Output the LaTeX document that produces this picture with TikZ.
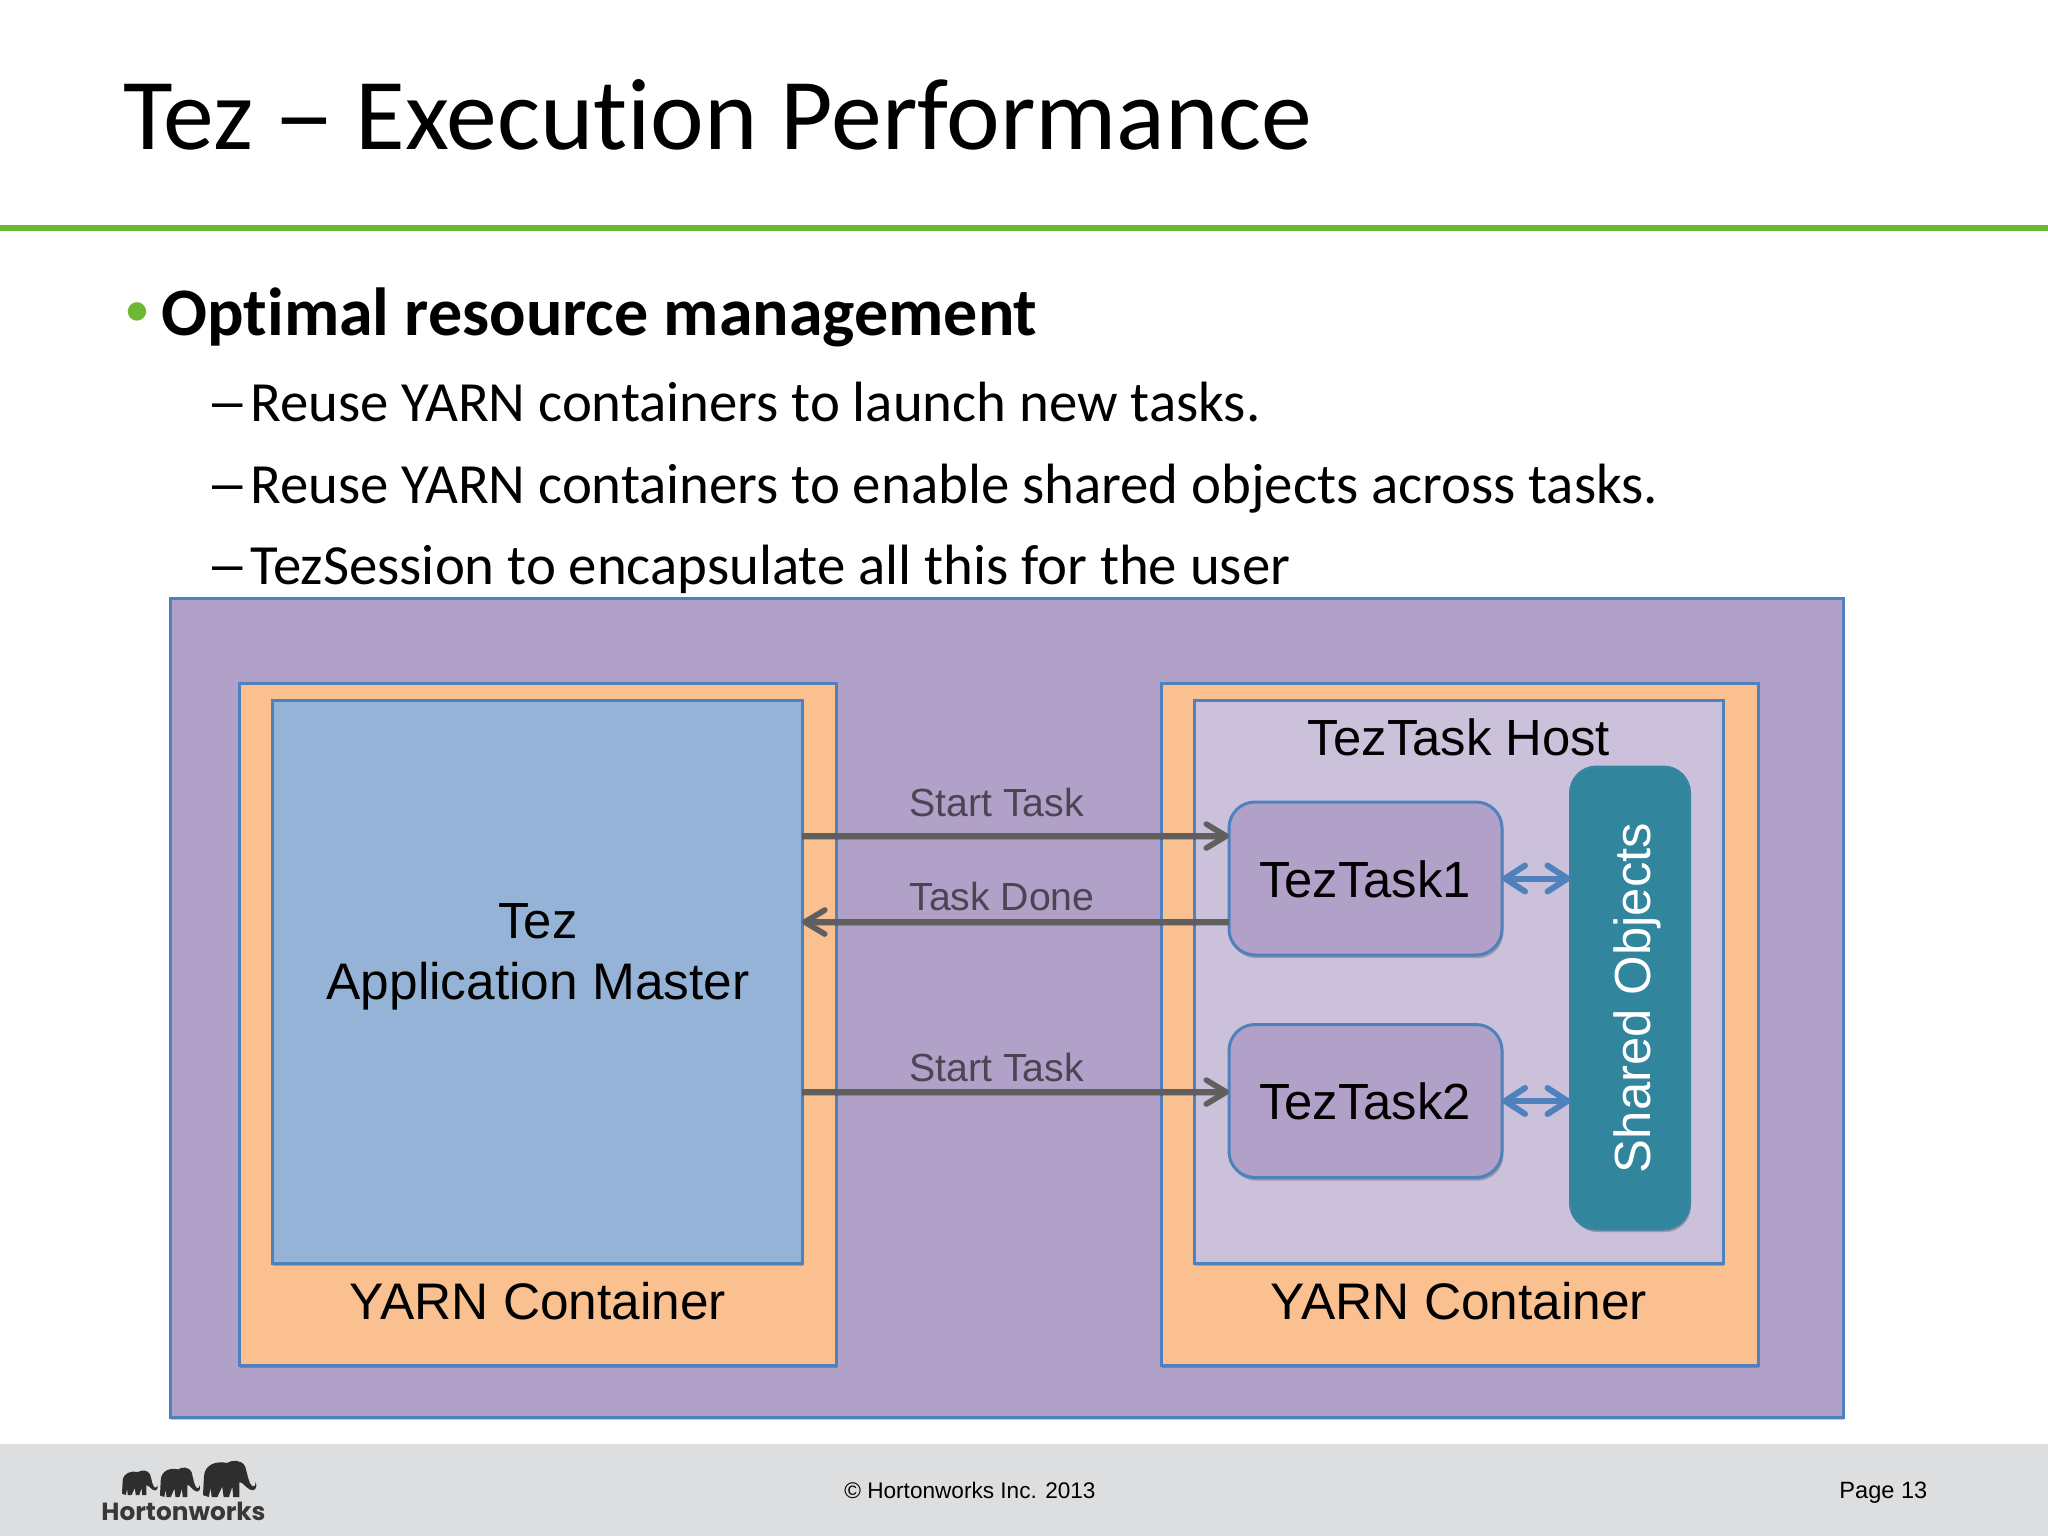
\documentclass[tikz,border=0pt]{standalone}
\usepackage{fontspec}
\setmainfont{Carlito}[Ligatures=NoCommon]
\newfontfamily\arialf{Liberation Sans}
\newfontfamily\logof{Poppins}
\usetikzlibrary{arrows.meta,shadows}
\definecolor{cOuter}{HTML}{B1A0C7}
\definecolor{cOrange}{HTML}{FAC090}
\definecolor{cBlue}{HTML}{95B3D7}
\definecolor{cHost}{HTML}{CCC1DA}
\definecolor{cTeal}{HTML}{31859C}
\definecolor{cEdge}{HTML}{4F81BD}
\definecolor{cArrow}{HTML}{5F5F5F}
\definecolor{cLabel}{HTML}{4A4453}
\definecolor{cFoot}{HTML}{DCDEE0}
\definecolor{cGreen}{HTML}{6CB833}
\newcommand{\fsz}[1]{\fontsize{#1pt}{#1pt}\selectfont}
\tikzset{
  box/.style={draw=cEdge,line width=1.5pt,outer sep=0pt,inner sep=0pt,
    drop shadow={shadow xshift=0.7pt,shadow yshift=-1.6pt,opacity=.22,fill=black}},
  rbox/.style={box,rounded corners=13pt},
  dia/.style={font=\arialf\fsz{25.4},text=black,inner sep=0pt,anchor=base},
  big/.style={dia,font=\arialf\fsz{25.7}},
  lab/.style={font=\arialf\fsz{19.6},text=cLabel,inner sep=0pt,anchor=base west},
  flow/.style={draw=cArrow,line width=2.8pt,-{Straight Barb[length=10pt,width=12pt,round]},
    preaction={draw=black,draw opacity=.2,transform canvas={yshift=-1.5pt}}},
  link/.style={draw=cEdge,line width=3pt,{Straight Barb[length=10pt,width=13pt,round]}-{Straight Barb[length=10pt,width=13pt,round]}},
  head/.style={inner sep=0pt,anchor=base west,text=black},
  foot/.style={font=\arialf\fsz{11.8},text=black,inner sep=0pt,anchor=base west},
  ele/.style={fill=black!82,draw=none}
}
\newcommand{\elephant}[4]{%
  \begin{scope}[shift={(#1,#2)},x=#3*0.5pt,y=-#4*0.5pt]
    \fill[ele] (0,0.95) -- (0.02,0.45) .. controls (0.03,0.1) and (0.3,0.02) .. (0.5,0.08)
      .. controls (0.6,0) and (0.8,-0.03) .. (0.88,0.18)
      .. controls (0.93,0.4) and (0.95,0.62) .. (1.02,0.7)
      .. controls (1.08,0.75) and (1.1,0.65) .. (1.1,0.6)
      .. controls (1.14,0.75) and (1.08,0.86) .. (0.98,0.8)
      .. controls (0.86,0.72) and (0.84,0.6) .. (0.76,0.6)
      -- (0.76,1) -- (0.63,1) -- (0.61,0.72) -- (0.54,1) -- (0.43,1) -- (0.4,0.72)
      -- (0.3,1) -- (0.18,1) -- (0.16,0.75) -- (0.12,1) -- cycle;
  \end{scope}}
\begin{document}
\begin{tikzpicture}[x=0.5pt,y=-0.5pt]
\useasboundingbox (0,0) rectangle (2048,1536);
\fill[white] (0,0) rectangle (2048,1536);
% title and rule
\node[head,font=\fsz{50.85}] (title) at (123,149) {Tez\hspace{-1.5pt} \scalebox{1.22}[1]{–}\hspace{-1.5pt} Execution Performance};
\fill[cGreen] (0,224.5) rectangle (2048,230.5);
% bullets
\node[head,font=\fsz{26},text=cGreen] (bul) at (124,326) {•};
\node[head,font=\bfseries\fsz{34}] (b0) at (161,335.5) {Optimal resource management};
\node[head,font=\fsz{28.4}] (d1) at (206.5,421) {\scalebox{1.5}[1]{–}};
\node[head,font=\fsz{28.4}] (b1) at (250,421) {Reuse YARN containers to launch new tasks.};
\node[head,font=\fsz{28.4}] (d2) at (206.5,503) {\scalebox{1.5}[1]{–}};
\node[head,font=\fsz{28.4}] (b2) at (250,503) {Reuse YARN containers to enable shared objects across tasks.};
\node[head,font=\fsz{28.4}] (d3) at (206.5,584.5) {\scalebox{1.5}[1]{–}};
\node[head,font=\fsz{28.4}] (b3) at (250,584.5) {TezSession to encapsulate all this for the user};
% boxes
\node[box,fill=cOuter,minimum width=836.5pt,minimum height=409.5pt] (outer) at (1006.5,1007.5) {};
\node[box,fill=cOrange,minimum width=298.5pt,minimum height=341pt] (cl) at (537.5,1024) {};
\node[box,fill=cBlue,minimum width=265pt,minimum height=281.5pt] (am) at (537,981.5) {};
\node[box,fill=cOrange,minimum width=298.5pt,minimum height=341pt] (cr) at (1459.5,1024) {};
\node[box,fill=cHost,minimum width=264.5pt,minimum height=281.5pt] (host) at (1458.5,981.5) {};
\node[rbox,fill=cOuter,minimum width=136.5pt,minimum height=76.5pt] (t1) at (1365.5,878.5) {};
\node[rbox,fill=cOuter,minimum width=136.5pt,minimum height=76.5pt] (t2) at (1365.5,1101) {};
\node[rbox,draw=cTeal!80!cEdge,fill=cTeal,rotate=90,minimum width=231pt,minimum height=59.5pt,
  font=\arialf\fsz{25.4},text=white] (so) at (1630,998) {\raisebox{-10.2pt}[0pt][0pt]{Shared Objects}};
% texts
\node[dia] (tam1) at (538,938.5) {Tez};
\node[big] (tam2) at (538,999.5) {Application Master};
\node[big] (ych1) at (538,1319.5) {YARN Container};
\node[big] (ych2) at (1459,1319.5) {YARN Container};
\node[dia] (hostt) at (1459,755) {TezTask Host};
\node[dia] (t1t) at (1365,897.5) {TezTask1};
\node[dia] (t2t) at (1365,1119.5) {TezTask2};
% connectors
\coordinate (ya) at (0,836);
\coordinate (yb) at (0,922);
\coordinate (yc) at (0,1092);
\draw[flow] (am.east |- ya) -- (t1.west |- ya);
\draw[flow] (t1.west |- yb) -- (am.east |- yb);
\draw[flow] (am.east |- yc) -- (t2.west |- yc);
\draw[link] (t1.east) -- (so.north |- t1.east);
\draw[link] (t2.east) -- (so.north |- t2.east);
\node[lab] (l1) at (909,816) {Start Task};
\node[lab] (l2) at (909,910) {Task Done};
\node[lab] (l3) at (909,1081) {Start Task};
% footer
\fill[cFoot] (0,1444) rectangle (2048,1536);
\node[foot,font=\arialf\fsz{11.3}] (copy) at (844,1498) {© Hortonworks Inc. 2013};
\node[foot] (page) at (1839,1498) {Page 13};
\elephant{122}{1470}{32}{25}
\elephant{160}{1467}{36}{30}
\elephant{203}{1460}{48}{37}
\node[inner sep=0pt,anchor=base west,font=\logof\bfseries\fsz{12.4},text=black!78] (logo) at (101,1520) {Hortonworks};
\end{tikzpicture}
\end{document}
